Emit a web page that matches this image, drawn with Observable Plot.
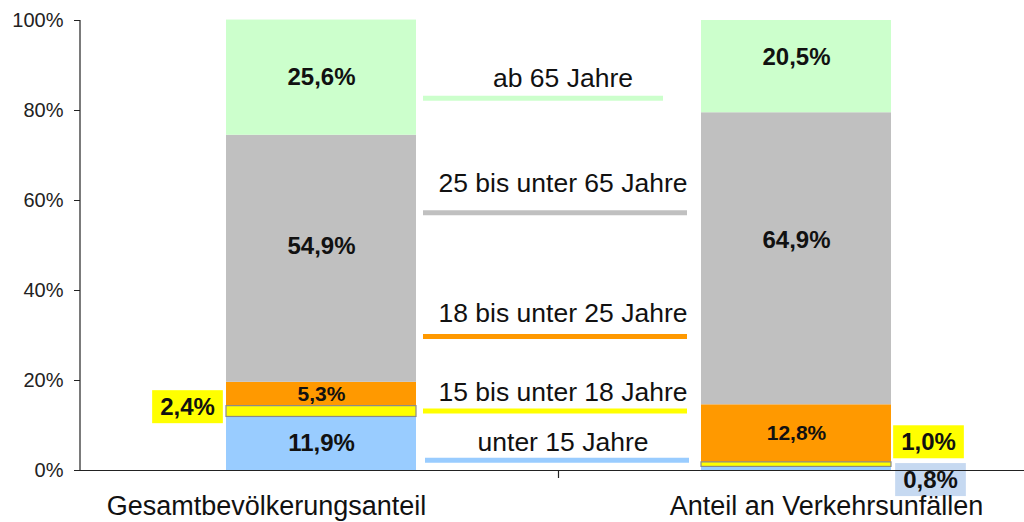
<!DOCTYPE html>
<html>
<head>
<meta charset="utf-8">
<script src="https://cdn.jsdelivr.net/npm/d3@7"></script>
<script src="https://cdn.jsdelivr.net/npm/@observablehq/plot@0.6"></script>
<style>
  html, body { margin: 0; padding: 0; background: #fff; overflow: hidden; }
  #chart { width: 1024px; height: 522px; }
</style>
</head>
<body>
<div id="chart"></div>
<script>
// ---- data ----
const categories = ["Gesamtbevölkerungsanteil", "Anteil an Verkehrsunfällen"];
const ageGroups = ["unter 15 Jahre", "15 bis unter 18 Jahre", "18 bis unter 25 Jahre", "25 bis unter 65 Jahre", "ab 65 Jahre"];
const shareBevoelkerung = [11.9, 2.4, 5.3, 54.9, 25.6];
const shareUnfaelle = [0.8, 1.0, 12.8, 64.9, 20.5];
const yTicks = [0, 20, 40, 60, 80, 100];

// ---- styling / layout ----
const groupColors = ["#99CCFF", "#FFFF00", "#FF9900", "#C0C0C0", "#CCFFCC"];
const FONT = "'Liberation Sans', Arial, Helvetica, sans-serif";

// legend annotation placement (in % units of the y scale)
const legendLayout = [
  {group: ageGroups[4], textY: 87.1, lineY: 82.7, insetRight: 374},
  {group: ageGroups[3], textY: 63.8, lineY: 57.3, insetRight: 350},
  {group: ageGroups[2], textY: 34.9, lineY: 29.8, insetRight: 350},
  {group: ageGroups[1], textY: 17.3, lineY: 13.2, insetRight: 350},
  {group: ageGroups[0], textY: 6.2,  lineY: 2.3,  insetRight: 348}
];

// label nudges (percentage points) for in-bar labels
const labelNudge = {
  "0|25 bis unter 65 Jahre": 2.7,
  "1|ab 65 Jahre": 2.1,
  "1|25 bis unter 65 Jahre": 4.2
};

// labels drawn outside the bars in coloured boxes
const callouts = [
  {cat: 0, group: ageGroups[1], dx: -134, nudge: 0.9,  box: "#FFFF00"},
  {cat: 1, group: ageGroups[1], dx: 132,  nudge: 4.9,  box: "#FFFF00"},
  {cat: 1, group: ageGroups[0], dx: 134,  nudge: -2.6, box: "#C6D9F1"}
];

// category label horizontal offsets (px)
const catLabelDx = [-55, 30];

// ---- build stacked rows ----
const rows = [];
[shareBevoelkerung, shareUnfaelle].forEach((vals, ci) => {
  let cum = 0;
  vals.forEach((v, gi) => {
    rows.push({ci, category: categories[ci], group: ageGroups[gi], value: v, y1: cum, y2: cum + v});
    cum += v;
  });
});
const fmt = v => v.toFixed(1).replace(".", ",") + "%";
const isCallout = d => callouts.some(c => c.cat === d.ci && c.group === d.group);
const insideRows = rows.filter(d => !isCallout(d));
const calloutRow = c => rows.find(d => d.ci === c.cat && d.group === c.group);

const marks = [
  Plot.barY(rows, {x: "category", y1: "y1", y2: "y2", fill: "group"}),
  Plot.barY(rows.filter(d => d.group === ageGroups[1]), {x: "category", y1: "y1", y2: "y2", fill: "none", stroke: "#8a8a8a", strokeWidth: 1.2}),
  Plot.text(insideRows, {
    x: "category",
    y: d => (d.y1 + d.y2) / 2 + (labelNudge[d.ci + "|" + d.group] || 0),
    text: d => fmt(d.value),
    fontSize: d => d.group === ageGroups[2] ? 21 : 24,
    fontWeight: "bold",
    fill: "#111"
  }),
  ...callouts.map(c => Plot.text([calloutRow(c)], {
    x: "category",
    y: d => (d.y1 + d.y2) / 2 + c.nudge,
    text: d => fmt(d.value),
    dx: c.dx,
    fontSize: 24,
    fontWeight: "bold",
    fill: "#111"
  })),
  ...legendLayout.map((l, i) => Plot.ruleY([l], {
    y: "lineY",
    stroke: groupColors[ageGroups.indexOf(l.group)],
    strokeWidth: 5,
    insetLeft: i === 4 ? 345 : 343,
    insetRight: l.insetRight
  })),
  Plot.text(legendLayout, {y: "textY", text: "group", frameAnchor: "middle", dx: 4, fontSize: 26.5, fill: "#111"}),
  Plot.ruleY([0], {stroke: "#222", strokeWidth: 1.2}),
  Plot.axisY({ticks: yTicks, tickFormat: d => d + "%", tickSize: 6, tickPadding: 11, fontSize: 20, label: null, stroke: "#222", fill: "#222"}),
  ...categories.map((c, i) => Plot.axisX({ticks: [c], tickSize: 0, tickPadding: 25, fontSize: 27, label: null, fill: "#111", dx: catLabelDx[i]}))
];

const plot = Plot.plot({
  width: 1024,
  height: 522,
  marginLeft: 80,
  marginRight: -13,
  marginTop: 20,
  marginBottom: 52,
  style: {fontFamily: FONT, fontSize: "19px", background: "#fff", color: "#222", overflow: "hidden"},
  x: {domain: categories, paddingInner: 0.601, paddingOuter: 0.307, axis: null},
  y: {domain: [0, 100], axis: null},
  color: {domain: ageGroups, range: groupColors},
  marks
});

document.getElementById("chart").appendChild(plot);

// ---- post-processing: boxes behind callouts, axis line, category separator tick ----
const svg = d3.select(plot);
callouts.forEach(c => {
  const label = fmt(calloutRow(c).value);
  svg.selectAll("text").filter(function() { return this.textContent === label; }).each(function() {
    const b = this.getBBox();
    const padX = 8, padY = 4;
    const rect = document.createElementNS("http://www.w3.org/2000/svg", "rect");
    rect.setAttribute("x", b.x - padX);
    rect.setAttribute("y", b.y - padY + 1);
    rect.setAttribute("width", b.width + 2 * padX);
    rect.setAttribute("height", b.height + 2 * padY - 2);
    rect.setAttribute("fill", c.box);
    const t = this.getAttribute("transform");
    if (t) rect.setAttribute("transform", t);
    this.parentNode.insertBefore(rect, this);
  });
});

const sx = plot.scale("x");
const sy = plot.scale("y");
const band = d3.scaleBand().domain(sx.domain).range(sx.range)
  .paddingInner(sx.paddingInner).paddingOuter(sx.paddingOuter).align(sx.align ?? 0.5);
const yOf = v => sy.range[0] + (v - sy.domain[0]) / (sy.domain[1] - sy.domain[0]) * (sy.range[1] - sy.range[0]);
const y0 = yOf(0), y100 = yOf(100);
const xLeft = sx.range[0];
svg.append("line").attr("x1", xLeft).attr("x2", xLeft).attr("y1", y100).attr("y2", y0)
  .attr("stroke", "#222").attr("stroke-width", 1.2);
const mid = (band(categories[0]) + band.bandwidth() + band(categories[1])) / 2;
svg.append("line").attr("x1", mid).attr("x2", mid).attr("y1", y0).attr("y2", y0 + 8)
  .attr("stroke", "#222").attr("stroke-width", 1.2);
</script>
</body>
</html>
